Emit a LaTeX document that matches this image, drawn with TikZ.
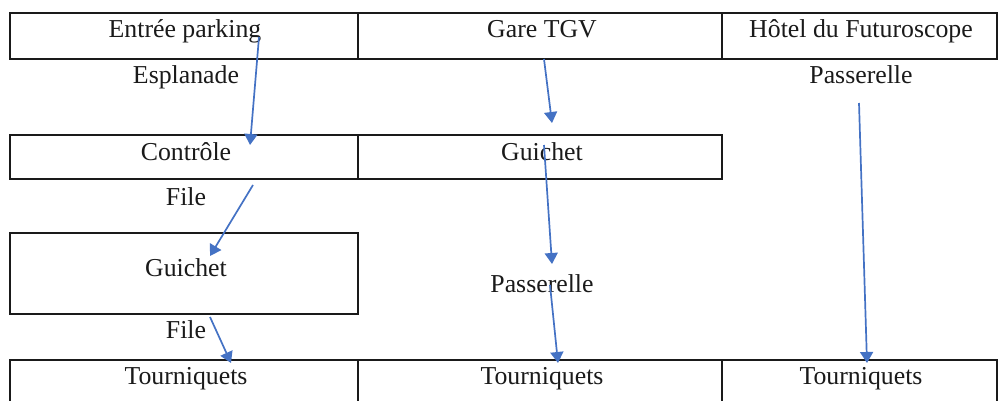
\documentclass[tikz,border=0pt]{standalone}
\usepackage{fontspec}
\setmainfont{Liberation Serif}
\usetikzlibrary{arrows.meta}
\definecolor{flow}{HTML}{4472C4}
\definecolor{ink}{HTML}{1A1A1A}
\tikzset{
  cellbox/.style={draw=ink,line width=1.3pt,rectangle,inner sep=0pt,outer sep=0pt,anchor=north west},
  lab/.style={anchor=base,inner sep=0pt,text=ink,font=\fontsize{25.8}{28}\selectfont},
  flowarrow/.style={draw=flow,line width=1.7pt,-{Triangle[length=11pt,width=13pt]}}
}
\begin{document}
\begin{tikzpicture}[x=1pt,y=-1pt]
\useasboundingbox (0,0) rectangle (1003,401);
\begin{scope}
\clip (0,0) rectangle (1003,401);
% row 1
\node[cellbox,minimum width=348pt,minimum height=46pt] (a1) at (10,13) {};
\node[cellbox,minimum width=364pt,minimum height=46pt] (a2) at (358,13) {};
\node[cellbox,minimum width=275pt,minimum height=46pt] (a3) at (722,13) {};
% row 2
\node[cellbox,minimum width=348pt,minimum height=44pt] (b1) at (10,135) {};
\node[cellbox,minimum width=364pt,minimum height=44pt] (b2) at (358,135) {};
% row 3
\node[cellbox,minimum width=348pt,minimum height=81pt] (c1) at (10,233) {};
% row 4 (runs off the lower edge)
\node[cellbox,minimum width=348pt,minimum height=60pt] (d1) at (10,360) {};
\node[cellbox,minimum width=364pt,minimum height=60pt] (d2) at (358,360) {};
\node[cellbox,minimum width=275pt,minimum height=60pt] (d3) at (722,360) {};
\end{scope}
% labels
\node[lab] (t1) at (185,38) {Entrée parking};
\node[lab] (t2) at (542,38) {Gare TGV};
\node[lab] (t3) at (861,38) {Hôtel du Futuroscope};
\node[lab] (t4) at (186,84) {Esplanade};
\node[lab] (t5) at (861,84) {Passerelle};
\node[lab] (t6) at (186,160) {Contrôle};
\node[lab] (t7) at (542,160) {Guichet};
\node[lab] (t8) at (186,205) {File};
\node[lab] (t9) at (186,276) {Guichet};
\node[lab] (t10) at (542,292) {Passerelle};
\node[lab] (t11) at (186,338) {File};
\node[lab] (t12) at (186,384) {Tourniquets};
\node[lab] (t13) at (542,384) {Tourniquets};
\node[lab] (t14) at (861,384) {Tourniquets};
% connector ends
\coordinate (s1) at (259,37);   \coordinate (e1) at (250,145);
\coordinate (s2) at (253,185);  \coordinate (e2) at (210,256);
\coordinate (s3) at (210,317);  \coordinate (e3) at (231,363);
\coordinate (s4) at (544,59);   \coordinate (e4) at (552,123);
\coordinate (s5) at (544,145);  \coordinate (e5) at (552,264);
\coordinate (s6) at (550,285);  \coordinate (e6) at (558,363);
\coordinate (s7) at (859,103);  \coordinate (e7) at (867,363);
\draw[flowarrow] (s1) -- (e1);
\draw[flowarrow] (s2) -- (e2);
\draw[flowarrow] (s3) -- (e3);
\draw[flowarrow] (s4) -- (e4);
\draw[flowarrow] (s5) -- (e5);
\draw[flowarrow] (s6) -- (e6);
\draw[flowarrow] (s7) -- (e7);
\end{tikzpicture}
\end{document}
